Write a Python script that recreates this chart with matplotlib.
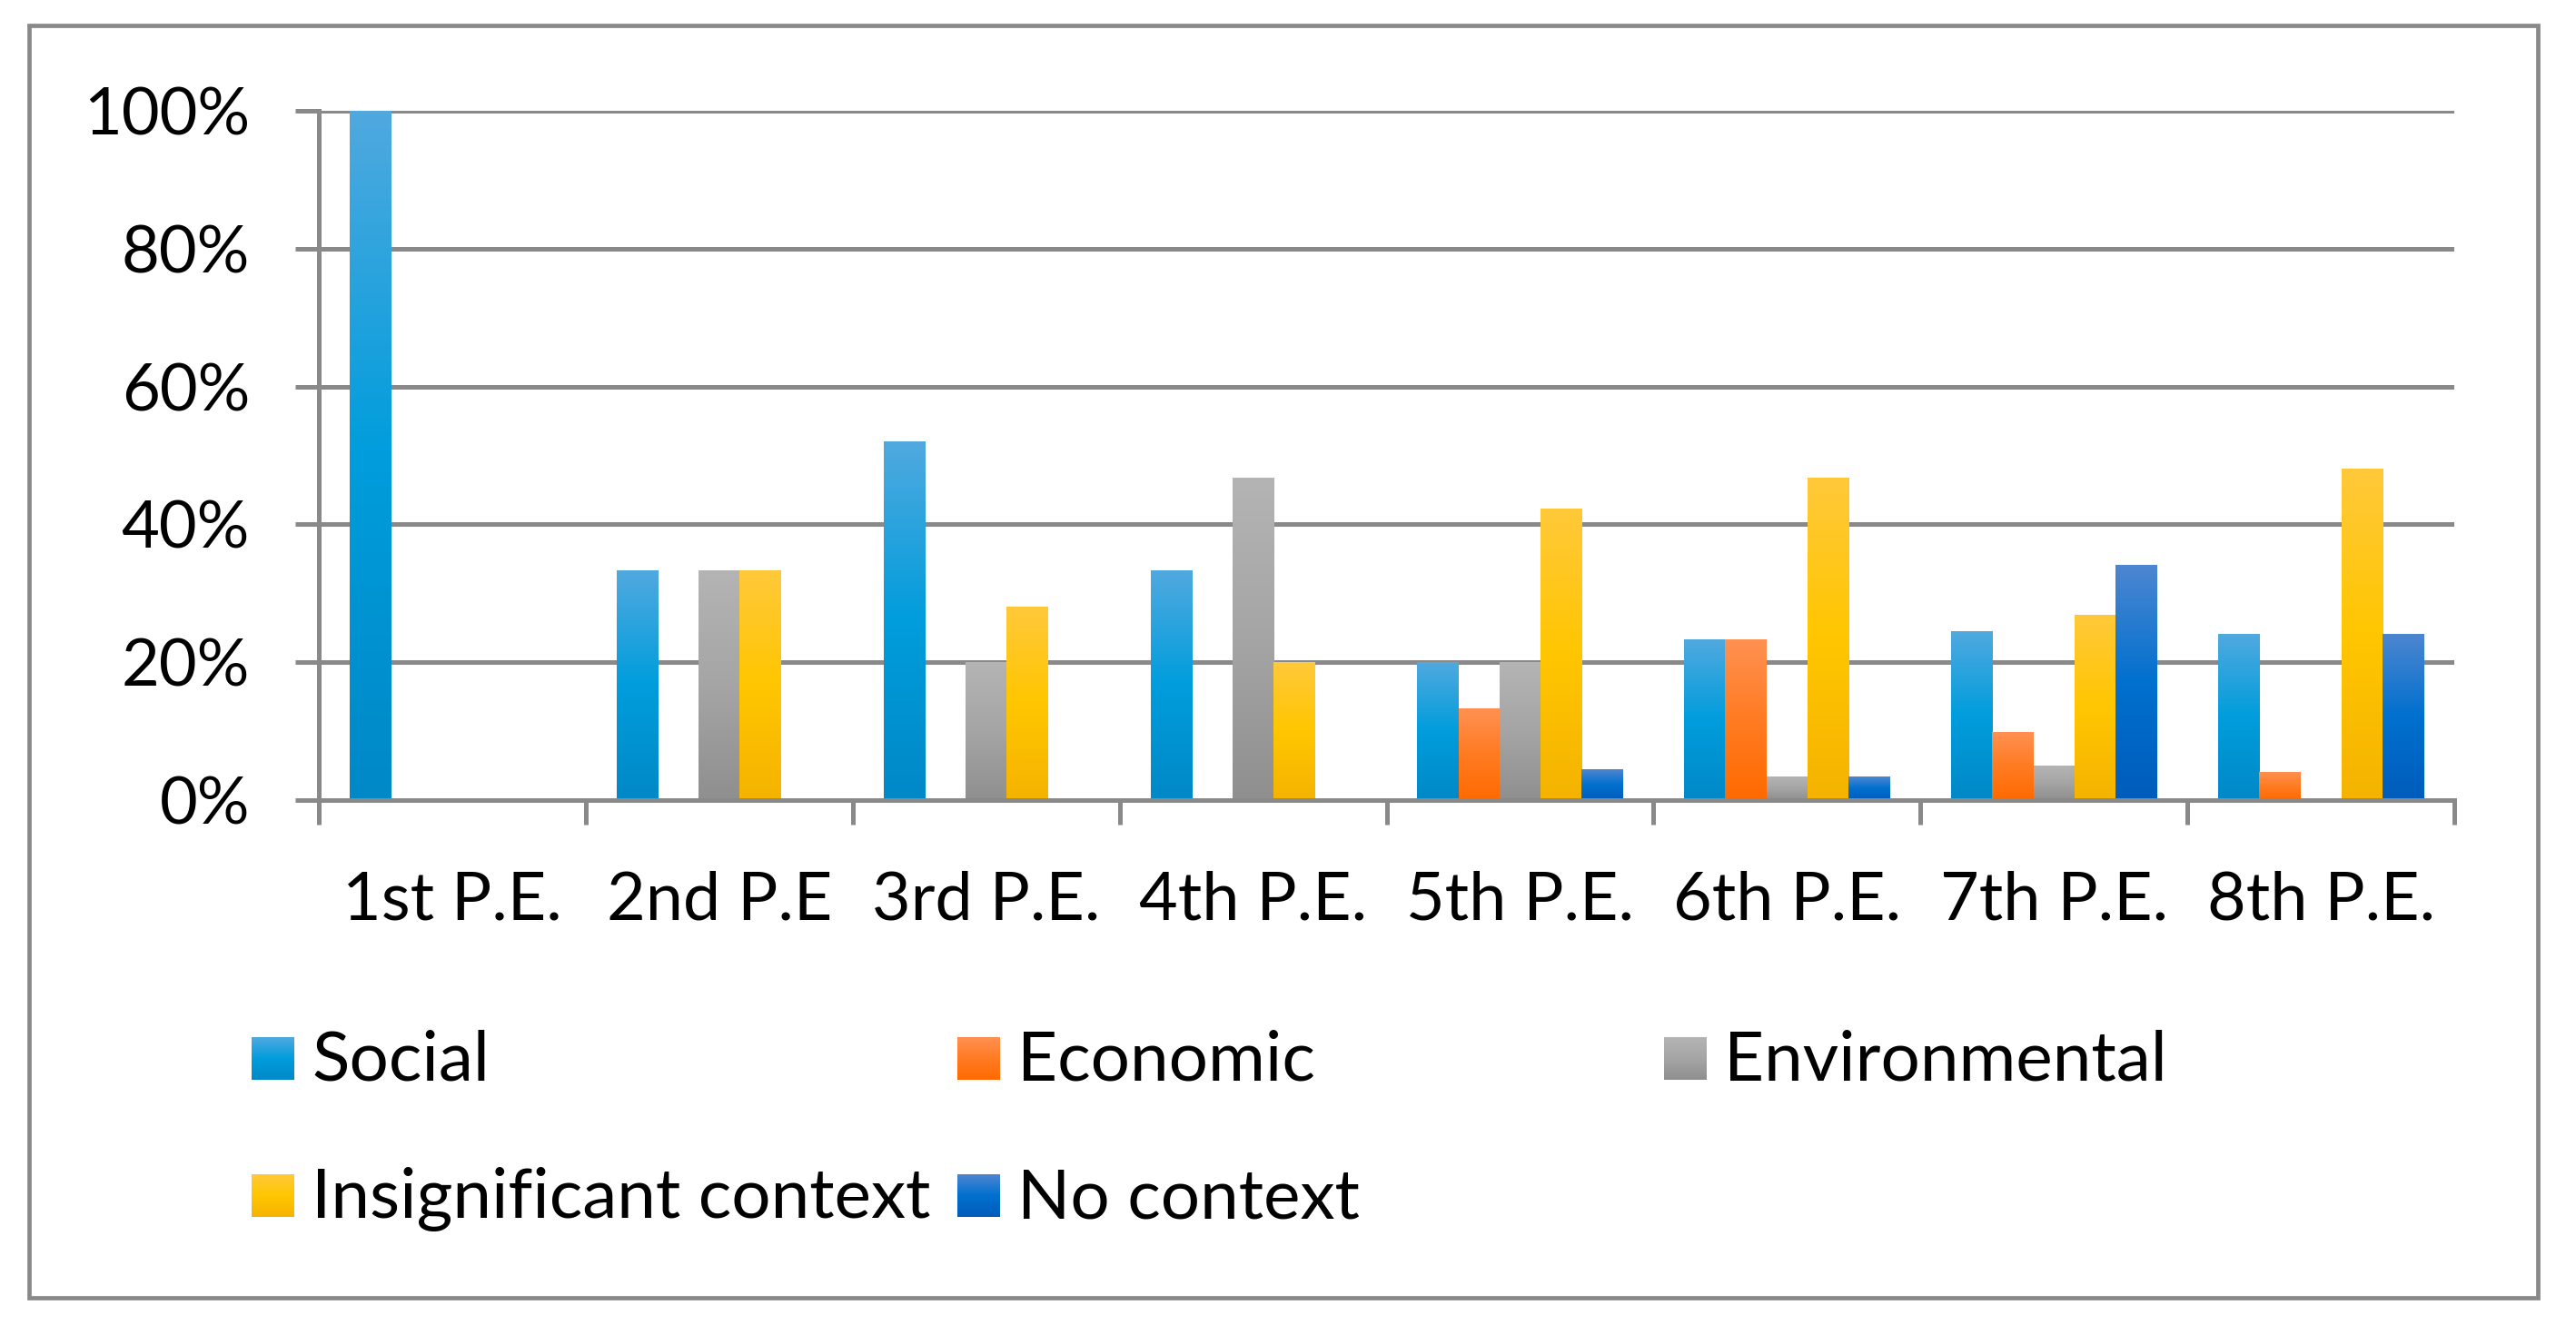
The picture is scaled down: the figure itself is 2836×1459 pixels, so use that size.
import numpy as np
import matplotlib
matplotlib.use("Agg")
import matplotlib.pyplot as plt
from matplotlib.colors import LinearSegmentedColormap
from matplotlib.patches import Rectangle
from matplotlib.ticker import PercentFormatter

plt.rcParams['font.family'] = ['Lato', 'DejaVu Sans']

# data (percent of each P.E.)
categories = ["1st P.E.", "2nd P.E", "3rd P.E.", "4th P.E.", "5th P.E.",
              "6th P.E.", "7th P.E.", "8th P.E."]
series_names = ["Social", "Economic", "Environmental",
                "Insignificant context", "No context"]
social = [100, 33.3, 52, 33.3, 20, 23.3, 24.4, 24]
economic = [0, 0, 0, 0, 13.3, 23.3, 9.8, 4]
environmental = [0, 33.3, 20, 46.7, 20, 3.3, 4.9, 0]
insignificant = [0, 33.3, 28, 20, 42.2, 46.7, 26.8, 48]
no_context = [0, 0, 0, 0, 4.4, 3.3, 34.1, 24]
values = [social, economic, environmental, insignificant, no_context]
y_ticks = [0, 20, 40, 60, 80, 100]

# top / middle / bottom colours of the bar gradients
gradients = {
    "Social": ["#50A9DF", "#009DDC", "#0088C7"],
    "Economic": ["#FF9152", "#FF7B22", "#FF6A00"],
    "Environmental": ["#B4B4B4", "#A5A5A5", "#8F8F8F"],
    "Insignificant context": ["#FFC93A", "#FFC600", "#F5B300"],
    "No context": ["#4D86D1", "#0070CE", "#005CBB"],
}
GRAY = "#898989"
W, H = 2836, 1459

fig = plt.figure(figsize=(W / 100, H / 100), dpi=100)
ax = fig.add_axes([351 / W, 1 - 881 / H, (2702 - 351) / W, (881 - 122) / H])

x = np.arange(len(categories))
width = 1 / 6.5
grad = np.linspace(0, 1, 256).reshape(-1, 1)
cmaps = {n: LinearSegmentedColormap.from_list(n, c) for n, c in gradients.items()}

for i, (name, vals) in enumerate(zip(series_names, values)):
    bars = ax.bar(x + (i - 2) * width, vals, width, color="none",
                  edgecolor="none", zorder=3)
    for b in bars:
        h = b.get_height()
        if h <= 0:
            continue
        x0, w = b.get_x(), b.get_width()
        ax.imshow(grad, cmap=cmaps[name], extent=[x0, x0 + w, 0, h],
                  origin="upper", aspect="auto", zorder=3,
                  interpolation="bilinear")

ax.set_xlim(-0.5, len(categories) - 0.5)
ax.set_ylim(0, 100)

ax.set_yticks(y_ticks)
ax.yaxis.set_major_formatter(PercentFormatter(decimals=0))
ax.yaxis.grid(True, color=GRAY, lw=3.6)
ax.set_axisbelow(True)
ax.tick_params(axis="y", direction="out", length=18.7, width=3.6,
               color=GRAY, labelsize=52, pad=36)

ax.set_xticks(np.arange(-0.5, len(categories), 1))
ax.set_xticklabels([])
ax.set_xticks(x, minor=True)
ax.set_xticklabels(categories, minor=True)
ax.tick_params(axis="x", which="major", direction="out", length=19.4,
               width=3.6, color=GRAY)
ax.tick_params(axis="x", which="minor", length=0, labelsize=53, pad=95)
for t in ax.xaxis.get_minor_ticks():
    t.label1.set_va("baseline")

for s in ["top", "right"]:
    ax.spines[s].set_visible(False)
for s in ["left", "bottom"]:
    ax.spines[s].set_color(GRAY)
    ax.spines[s].set_linewidth(3.6)
    ax.spines[s].set_zorder(4)

# frame and legend, drawn in pixel coordinates
ov = fig.add_axes([0, 0, 1, 1], zorder=-1)
ov.axis("off")
ov.add_patch(Rectangle((32, 28), 2794 - 32, 1429 - 28, fill=False,
                       ec=GRAY, lw=3.4))

col_x = [277, 1054, 1832]
row_y = [1142, 1293]
for k, name in enumerate(series_names):
    cx, ry = col_x[k % 3], row_y[k // 3]
    ov.imshow(grad, cmap=cmaps[name], extent=[cx, cx + 47, ry + 47, ry],
              origin="upper", aspect="auto", interpolation="bilinear")
    ov.text(cx + 66, ry + 48, name, fontsize=55, va="baseline", ha="left")

ov.set_xlim(0, W)
ov.set_ylim(H, 0)

fig.savefig("out.png", dpi=100, facecolor="white")
